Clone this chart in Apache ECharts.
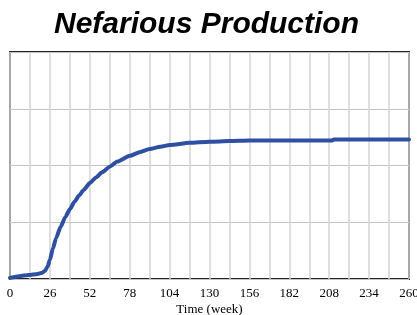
<!DOCTYPE html>
<html>
<head>
<meta charset="utf-8">
<script src="https://cdn.jsdelivr.net/npm/echarts@6/dist/echarts.min.js"></script>
<style>
  html, body { margin: 0; padding: 0; background: #fff; }
  #chart { width: 417px; height: 315px; }
</style>
</head>
<body>
<div id="chart"></div>
<script>
// values (week, production level in grid units)
var weeks = [0, 6, 12, 18, 21, 23, 24.5, 26, 28, 30, 33, 36, 39, 42, 45, 48, 52, 56, 60, 65,
             70, 78, 85, 91, 98, 104, 117, 130, 143, 156, 182, 210, 211, 234, 260];
var production = [0.02, 0.05, 0.07, 0.09, 0.11, 0.15, 0.22, 0.34, 0.54, 0.72, 0.92, 1.09, 1.23, 1.36, 1.47, 1.57, 1.69, 1.79, 1.88, 1.98,
                  2.07, 2.17, 2.24, 2.29, 2.33, 2.36, 2.40, 2.42, 2.43, 2.44, 2.44, 2.44, 2.46, 2.46, 2.46];
var xTicks = [0, 26, 52, 78, 104, 130, 156, 182, 208, 234, 260];

var chart = echarts.init(document.getElementById('chart'));

chart.setOption({
    animation: false,
    title: {
        text: 'Nefarious Production',
        left: 49,
        top: 5,
        textStyle: {
            fontFamily: '"Liberation Sans", Arial, sans-serif',
            fontSize: 30,
            fontWeight: 'bold',
            fontStyle: 'italic',
            color: '#000'
        }
    },
    grid: {
        left: 10,
        right: 8,
        top: 52,
        bottom: 36,
        show: true,
        borderColor: '#222',
        borderWidth: 2,
        containLabel: false,
        outerBoundsMode: 'none'
    },
    xAxis: {
        type: 'value',
        min: 0,
        max: 260,
        interval: 26,
        name: 'Time (week)',
        nameLocation: 'middle',
        nameGap: 24,
        nameMoveOverlap: false,
        nameTextStyle: {
            fontFamily: '"Liberation Serif", "Times New Roman", serif',
            fontSize: 13,
            color: '#000'
        },
        axisLine: {show: false},
        axisTick: {show: false},
        axisLabel: {
            margin: 8,
            fontFamily: '"Liberation Serif", "Times New Roman", serif',
            fontSize: 13,
            color: '#000',
            formatter: function (v) {
                return xTicks.indexOf(v) >= 0 ? String(v) : '';
            }
        },
        splitLine: {show: true, lineStyle: {color: '#d4d4d4', width: 1.5}},
        minorTick: {show: false, splitNumber: 2},
        minorSplitLine: {show: true, lineStyle: {color: '#d4d4d4', width: 1.5}}
    },
    yAxis: {
        type: 'value',
        min: 0,
        max: 4,
        interval: 1,
        axisLine: {show: false},
        axisTick: {show: false},
        axisLabel: {show: false},
        splitLine: {show: true, lineStyle: {color: '#c4c4c4', width: 1}}
    },
    series: [{
        type: 'line',
        data: weeks.map(function (w, i) { return [w, production[i]]; }),
        showSymbol: false,
        smooth: 0.2,
        smoothMonotone: 'x',
        lineStyle: {color: '#2f4fa3', width: 4, join: 'round', cap: 'round'},
        z: 5
    }]
});
</script>
</body>
</html>
